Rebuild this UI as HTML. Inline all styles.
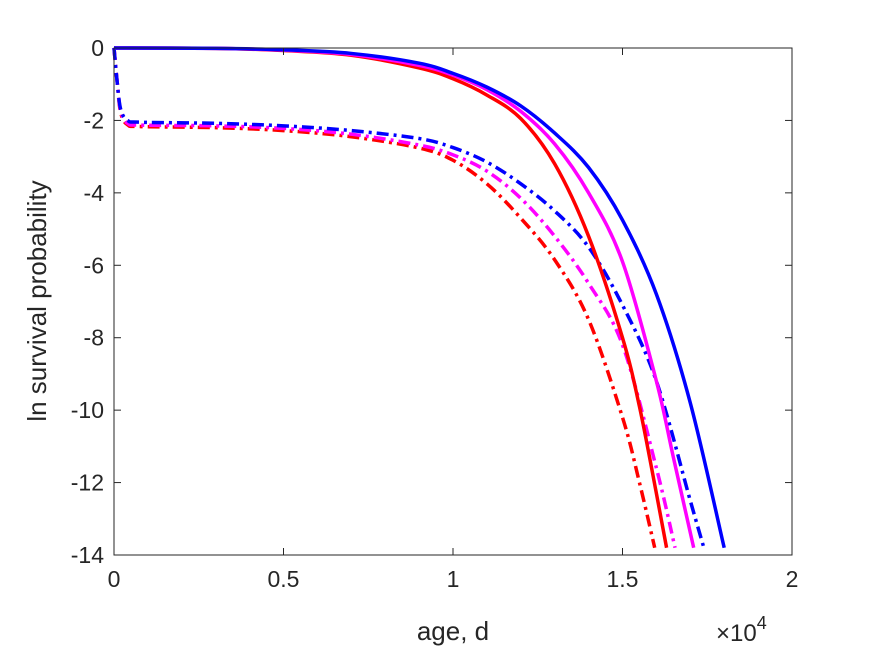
<!DOCTYPE html>
<html><head><meta charset="utf-8"><style>
body{margin:0;background:#fff}
svg{display:block;font-family:"Liberation Sans",Arial,sans-serif}
</style></head><body>
<svg id="chart" width="875" height="656" viewBox="0 0 875 656">
<rect width="875" height="656" fill="#fff"/>
<g id="plot"></g>
<g id="axes"></g>
<text x="453" y="640" text-anchor="middle" font-size="26" fill="#262626">age, d</text>
<text x="716" y="641" font-size="24" fill="#262626">×10<tspan dy="-12" font-size="18">4</tspan></text>
<text transform="translate(46,301) rotate(-90)" text-anchor="middle" font-size="26" fill="#262626">ln survival probability</text>
</svg>
<script>
const xTicks=[0,0.5,1,1.5,2];
const xTickLabels=["0","0.5","1","1.5","2"];
const yTicks=[0,-2,-4,-6,-8,-10,-12,-14];
const yTickLabels=["0","-2","-4","-6","-8","-10","-12","-14"];
const ageSolidBlue=[0,0.3,0.5,0.7,0.9,1.0,1.1,1.2,1.3,1.4,1.5,1.6,1.7,1.8];
const valSolidBlue=[0,-0.01,-0.05,-0.15,-0.42,-0.7,-1.08,-1.6,-2.35,-3.3,-4.75,-6.8,-9.8,-13.8];
const ageSolidMag=[0,0.3,0.5,0.7,0.9,1.0,1.1,1.2,1.3,1.4,1.5,1.6,1.65,1.71];
const valSolidMag=[0,-0.01,-0.06,-0.18,-0.48,-0.75,-1.15,-1.75,-2.65,-4.0,-5.9,-9.2,-11.3,-13.8];
const ageSolidRed=[0,0.3,0.5,0.7,0.9,1.0,1.1,1.2,1.3,1.4,1.5,1.55,1.6,1.63];
const valSolidRed=[0,-0.01,-0.07,-0.2,-0.55,-0.85,-1.3,-1.95,-3.2,-5.2,-8.0,-9.9,-12.3,-13.8];
const ageDDBlue=[0,0.01,0.02,0.04,0.08,0.3,0.5,0.7,0.9,1.0,1.1,1.2,1.3,1.4,1.5,1.6,1.7,1.74];
const valDDBlue=[0,-1.0,-1.7,-2.0,-2.05,-2.08,-2.15,-2.28,-2.5,-2.75,-3.15,-3.75,-4.5,-5.5,-7.1,-9.2,-12.5,-13.8];
const ageDDMag=[0,0.01,0.02,0.04,0.08,0.3,0.5,0.7,0.9,1.0,1.1,1.2,1.3,1.4,1.5,1.6,1.655];
const valDDMag=[0,-1.0,-1.75,-2.08,-2.13,-2.15,-2.22,-2.38,-2.68,-2.95,-3.4,-4.15,-5.2,-6.5,-8.2,-11.6,-13.8];
const ageDDRed=[0,0.01,0.02,0.04,0.08,0.3,0.5,0.7,0.9,1.0,1.1,1.2,1.3,1.4,1.5,1.55,1.595];
const valDDRed=[0,-1.0,-1.8,-2.12,-2.17,-2.2,-2.28,-2.45,-2.76,-3.1,-3.75,-4.7,-5.85,-7.5,-10.2,-12.0,-13.8];

const X0=114,X1=792,Y0=48,Y1=555;
const xs=v=>X0+(v-0)/(2-0)*(X1-X0);
const ys=v=>Y0+(0-v)/(0+14)*(Y1-Y0);
const NS="http://www.w3.org/2000/svg";
const plot=document.getElementById('plot'),axes=document.getElementById('axes');
function mk(t,a,p){const e=document.createElementNS(NS,t);for(const k in a)e.setAttribute(k,a[k]);p.appendChild(e);return e;}
function pathFor(ax,ay){
  const P=ax.map((a,i)=>[xs(a),ys(ay[i])]);
  let d="M"+P[0][0]+","+P[0][1];
  for(let i=0;i<P.length-1;i++){
    const p0=P[Math.max(0,i-1)],p1=P[i],p2=P[i+1],p3=P[Math.min(P.length-1,i+2)];
    const c1=[p1[0]+(p2[0]-p0[0])/6,p1[1]+(p2[1]-p0[1])/6];
    const c2=[p2[0]-(p3[0]-p1[0])/6,p2[1]-(p3[1]-p1[1])/6];
    d+=` C${c1[0]},${c1[1]} ${c2[0]},${c2[1]} ${p2[0]},${p2[1]}`;
  }
  return d;
}
const series=[
 [ageDDRed,valDDRed,"#ff0000",true,"line-red-dashdot"],
 [ageDDMag,valDDMag,"#ff00ff",true,"line-magenta-dashdot"],
 [ageDDBlue,valDDBlue,"#0000ff",true,"line-blue-dashdot"],
 [ageSolidRed,valSolidRed,"#ff0000",false,"line-red-solid"],
 [ageSolidMag,valSolidMag,"#ff00ff",false,"line-magenta-solid"],
 [ageSolidBlue,valSolidBlue,"#0000ff",false,"line-blue-solid"]
];
for(const s of series){
  const a={d:pathFor(s[0],s[1]),fill:"none",stroke:s[2],"stroke-width":3.5};
  if(s[3])a["stroke-dasharray"]="12 5 3 5";
  const e=mk("path",a,plot);
  
  
}
const box=mk("rect",{x:X0,y:Y0,width:X1-X0,height:Y1-Y0,fill:"none",stroke:"#262626","stroke-width":1},axes);


xTicks.forEach((v,i)=>{
  mk("line",{x1:xs(v),x2:xs(v),y1:Y1,y2:Y1-7,stroke:"#262626"},axes);
  mk("line",{x1:xs(v),x2:xs(v),y1:Y0,y2:Y0+7,stroke:"#262626"},axes);
  const t=mk("text",{x:xs(v),y:Y1+32,"text-anchor":"middle","font-size":23,fill:"#262626"},axes);
  t.textContent=xTickLabels[i];
  
  
});
yTicks.forEach((v,i)=>{
  mk("line",{x1:X0,x2:X0+7,y1:ys(v),y2:ys(v),stroke:"#262626"},axes);
  mk("line",{x1:X1,x2:X1-7,y1:ys(v),y2:ys(v),stroke:"#262626"},axes);
  const t=mk("text",{x:X0-10,y:ys(v)+8,"text-anchor":"end","font-size":23,fill:"#262626"},axes);
  t.textContent=yTickLabels[i];
  
  
});
</script>
</body></html>
